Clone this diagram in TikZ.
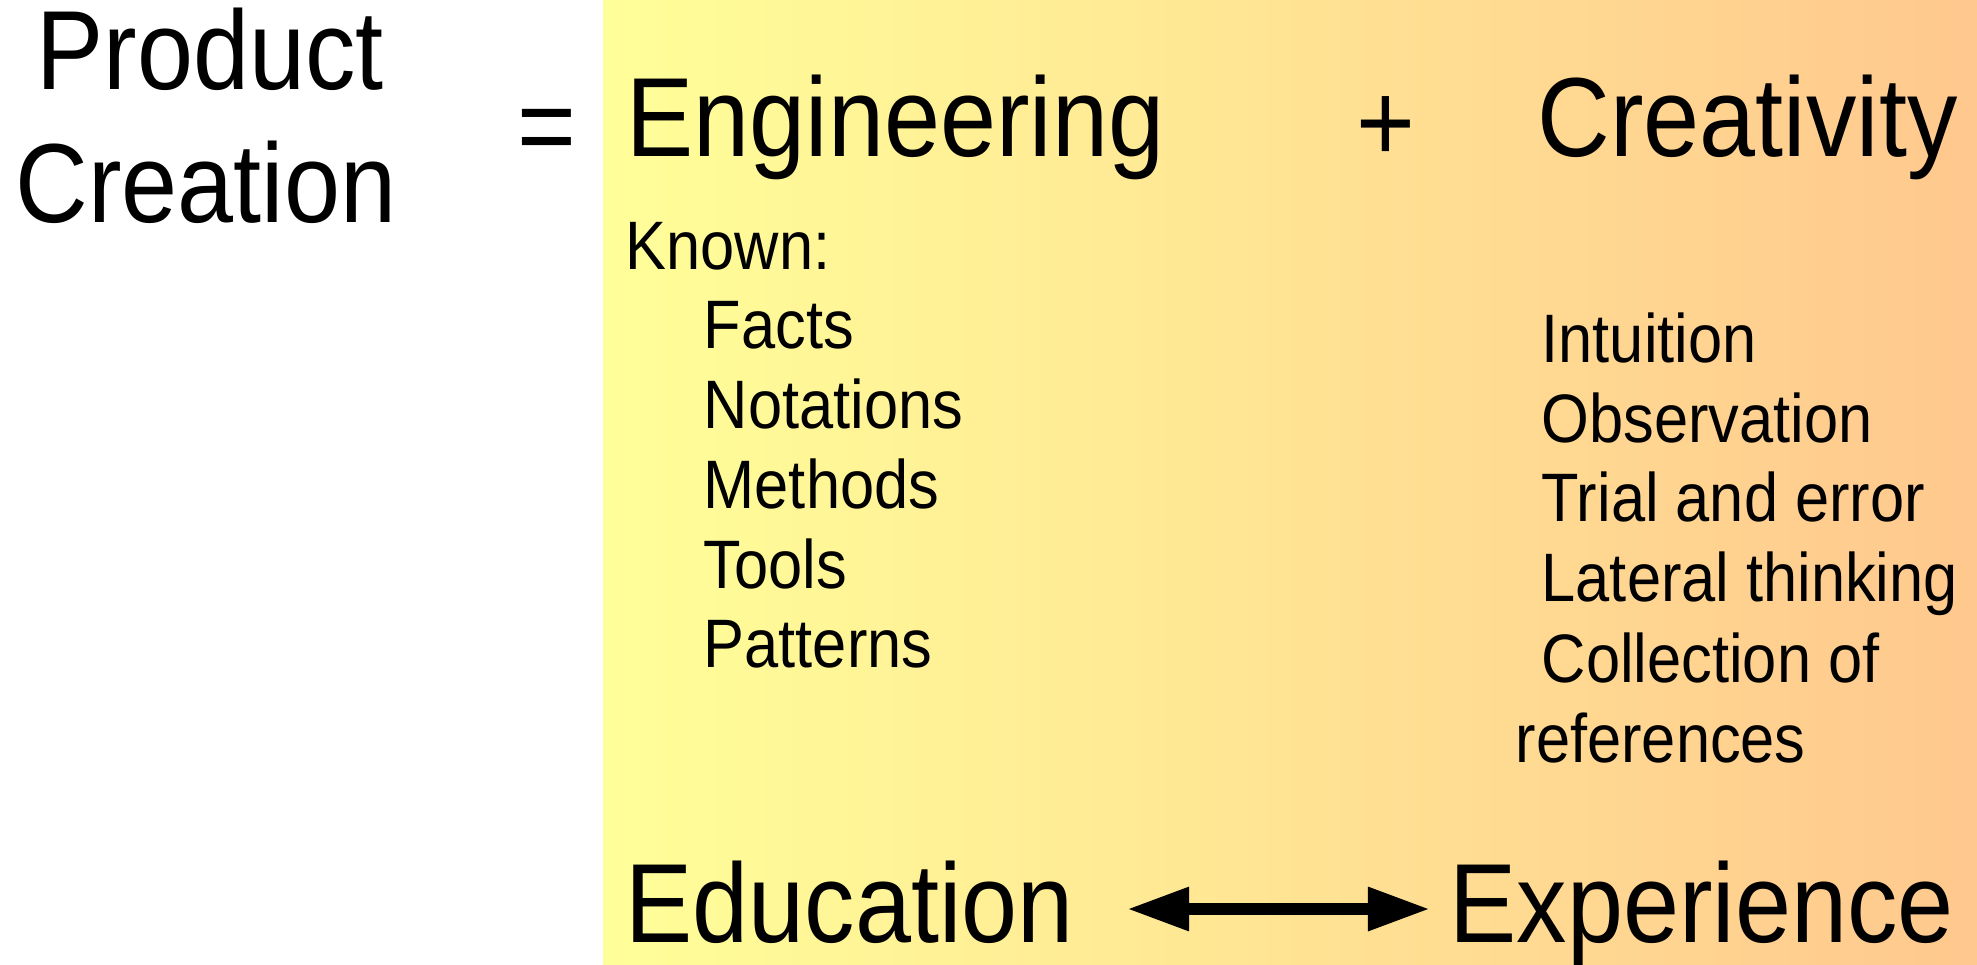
\documentclass[tikz,border=0pt]{standalone}
\usepackage{fontspec}
\setmainfont{Liberation Sans}[FakeStretch=0.895]
\usetikzlibrary{arrows.meta}
\definecolor{warmyellow}{HTML}{FFFF99}
\definecolor{warmpeach}{HTML}{FFC88E}

\begin{document}
\begin{tikzpicture}[x=0.01cm,y=-0.01cm,
    bigtext/.style={font=\fontsize{32}{38}\selectfont,inner sep=0pt},
    listtext/.style={font=\fontsize{19.5}{23}\selectfont,inner sep=0pt,anchor=base west},
    twoway/.style={{Triangle[length=0.62cm,width=0.41cm]}-{Triangle[length=0.62cm,width=0.41cm]},line width=0.12cm}]
    \useasboundingbox (0,0) rectangle (1977,964);
    \shade[left color=warmyellow,right color=warmpeach]
        (603,0) rectangle (1977,964);

    \node[bigtext,anchor=base] (product) at (210,90) {Product};
    \node[bigtext,anchor=base] (creation) at (206,223) {Creation};
    \node[bigtext,anchor=base] (equals) at (547,165) {=};

    \node[bigtext,anchor=base west] (engineering) at (626,157) {Engineering};
    \node[bigtext,anchor=base] (plus) at (1386,162) {+};
    \node[bigtext,anchor=base west] (creativity) at (1537,157) {Creativity};

    \node[listtext] (known) at (625,270) {Known:};
    \node[listtext] (facts) at (703,348) {Facts};
    \node[listtext] (notations) at (703,428) {Notations};
    \node[listtext] (methods) at (703,508) {Methods};
    \node[listtext] (tools) at (703,588) {Tools};
    \node[listtext] (patterns) at (703,667) {Patterns};

    \node[listtext] (intuition) at (1541,363) {Intuition};
    \node[listtext] (observation) at (1541,442) {Observation};
    \node[listtext] (trial) at (1541,521) {Trial and error};
    \node[listtext] (lateral) at (1541,601) {Lateral thinking};
    \node[listtext] (collection) at (1541,682) {Collection of};
    \node[listtext] (references) at (1515,762) {references};

    \node[bigtext,anchor=base west] (education) at (625,942) {Education};
    \node[bigtext,anchor=base west] (experience) at (1449,942) {Experience};

    \coordinate (arrow-left) at (1127,909);
    \coordinate (arrow-right) at (1430,909);
    \draw[twoway] (arrow-left) -- (arrow-right);
\end{tikzpicture}
\end{document}
